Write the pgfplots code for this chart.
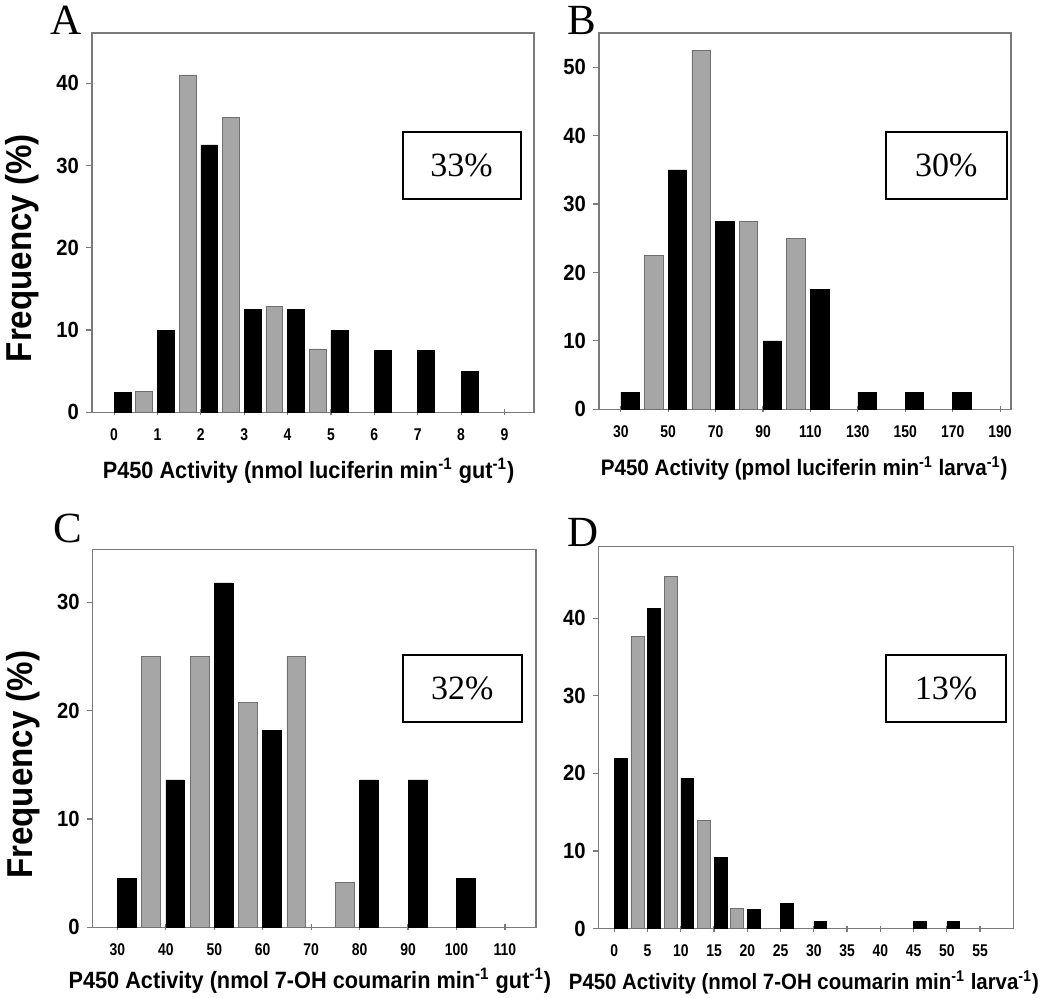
\documentclass[border=0pt]{standalone}
\usepackage{fontspec}
\setmainfont{Liberation Sans}
\newfontfamily\serifA{Liberation Serif}
\newfontfamily\narrowf{Liberation Sans}[FakeStretch=0.82]
\newfontfamily\semif{Liberation Sans}[FakeStretch=0.92]
\usepackage{pgfplots}
\pgfplotsset{compat=1.18}
\definecolor{frameGray}{HTML}{7A7A7A}
\definecolor{barGray}{HTML}{A6A6A6}
\definecolor{edgeGray}{HTML}{6F6F6F}
\pgfplotsset{
  panel/.style={
    scale only axis,
    anchor=south west,
    axis line style={draw=frameGray, line width=0.75pt},
    tick pos=left,
    xtick align=center,
    ytick align=outside,
    major tick length=3pt,
    tick style={draw=frameGray, line width=0.6pt},
    ymin=0,
    /pgf/number format/assume math mode=true,
    xticklabel style={font=\narrowf\bfseries\fontsize{8.5}{9}\selectfont, yshift=-3pt},
    yticklabel style={font=\semif\bfseries\fontsize{11}{11}\selectfont},
    xlabel style={font=\semif\bfseries\fontsize{11.8}{12}\selectfont},
    ylabel style={font=\semif\bfseries\fontsize{18}{18}\selectfont},
  },
  blackbar/.style={ybar, fill=black, draw=black, line width=0.3pt},
  graybar/.style={ybar, fill=barGray, draw=edgeGray, line width=0.4pt},
}
\tikzset{
  pctbox/.style={draw=black, line width=1pt, fill=white, minimum height=33.5pt,
    font=\serifA\fontsize{17}{17}\selectfont},
}
\begin{document}
\begin{tikzpicture}
\path[use as bounding box] (0,0) rectangle (525pt,498.5pt);

% ---------------- Panel A ----------------
\begin{axis}[panel, at={(46pt,292.35pt)}, width=221pt, height=189.65pt,
  xmin=-0.51, xmax=9.68, ymax=46.1,
  xtick={0,1,2,3,4,5,6,7,8,9}, ytick={0,10,20,30,40},
  xlabel={P450 Activity (nmol luciferin min\textsuperscript{-1} gut\textsuperscript{-1})},
  xlabel style={at={(axis description cs:0.49,0)}, anchor=base, yshift=-33pt},
  ylabel={Frequency (\%)},
  ylabel style={at={(axis description cs:-0.1364,0.433)}, anchor=base},
]
\addplot[blackbar, bar width=0.39, bar shift=0.195] coordinates {
  (0,2.4) (1,10) (2,32.5) (3,12.5) (4,12.5) (5,10) (6,7.5) (7,7.5) (8,5)};
\addplot[graybar, bar width=0.39, bar shift=0.195] coordinates {
  (0.5,2.5) (1.5,41) (2.5,35.8) (3.5,12.9) (4.5,7.7)};
\node[pctbox, minimum width=59pt] at (rel axis cs:0.836,0.65) {33\%};
\end{axis}

% ---------------- Panel B ----------------
\begin{axis}[panel, at={(299.5pt,293.85pt)}, width=206pt, height=188.15pt,
  xmin=20.8, xmax=194.6, ymax=55,
  xtick={30,50,70,90,110,130,150,170,190}, ytick={0,10,20,30,40,50},
  xlabel={P450 Activity (pmol luciferin min\textsuperscript{-1} larva\textsuperscript{-1})},
  xlabel style={at={(axis description cs:0.498,0)}, anchor=base, yshift=-33.3pt,
    font=\semif\bfseries\fontsize{11.2}{12}\selectfont},
]
\addplot[blackbar, bar width=7.8, bar shift=3.9] coordinates {
  (30,2.5) (50,35) (70,27.5) (90,10) (110,17.5) (130,2.5) (150,2.5) (170,2.5)};
\addplot[graybar, bar width=7.8, bar shift=3.9] coordinates {
  (40,22.5) (60,52.5) (80,27.5) (100,25)};
\node[pctbox, minimum width=60.3pt] at (rel axis cs:0.843,0.647) {30\%};
\end{axis}

% ---------------- Panel C ----------------
\begin{axis}[panel, at={(46.35pt,34.85pt)}, width=221.65pt, height=189pt,
  xmin=24.9, xmax=116.4, ymax=34.9,
  xtick={30,40,50,60,70,80,90,100,110}, ytick={0,10,20,30},
  xlabel={P450 Activity (nmol 7-OH coumarin min\textsuperscript{-1} gut\textsuperscript{-1})},
  xlabel style={at={(axis description cs:0.49,0)}, anchor=base, yshift=-30.5pt},
  ylabel={Frequency (\%)},
  ylabel style={at={(axis description cs:-0.136,0.43)}, anchor=base},
]
\addplot[blackbar, bar width=3.9, bar shift=1.95] coordinates {
  (30,4.5) (40,13.6) (50,31.8) (60,18.2) (80,13.6) (90,13.6) (100,4.5)};
\addplot[graybar, bar width=3.9, bar shift=1.95] coordinates {
  (35,25) (45,25) (55,20.8) (65,25) (75,4.1)};
\node[pctbox, minimum width=59.5pt] at (rel axis cs:0.834,0.631) {32\%};
\end{axis}

% ---------------- Panel D ----------------
\begin{axis}[panel, at={(299.35pt,34.15pt)}, width=207.3pt, height=191pt,
  xmin=-2.35, xmax=60, ymax=49.2,
  xtick={0,5,10,15,20,25,30,35,40,45,50,55}, ytick={0,10,20,30,40},
  xlabel={P450 Activity (nmol 7-OH coumarin min\textsuperscript{-1} larva\textsuperscript{-1})},
  xlabel style={at={(axis description cs:0.495,0)}, anchor=base, yshift=-30.6pt,
    font=\semif\bfseries\fontsize{11.1}{12}\selectfont},
]
\addplot[blackbar, bar width=1.95, bar shift=0.975] coordinates {
  (0,21.9) (5,41.3) (10,19.4) (15,9.2) (20,2.5) (25,3.3) (30,0.9) (45,0.9) (50,0.9)};
\addplot[graybar, bar width=1.95, bar shift=0.975] coordinates {
  (2.5,37.6) (7.5,45.4) (12.5,13.9) (17.5,2.6)};
\node[pctbox, minimum width=60pt] at (rel axis cs:0.838,0.628) {13\%};
\end{axis}

% panel letters
\node[anchor=base west, inner sep=0, font=\serifA\fontsize{21.5}{21.5}\selectfont] at (25pt,481pt) {A};
\node[anchor=base west, inner sep=0, font=\serifA\fontsize{21.5}{21.5}\selectfont] at (283.3pt,481.3pt) {B};
\node[anchor=base west, inner sep=0, font=\serifA\fontsize{21.5}{21.5}\selectfont] at (26.5pt,227pt) {C};
\node[anchor=base west, inner sep=0, font=\serifA\fontsize{21.5}{21.5}\selectfont] at (283.3pt,225.2pt) {D};
\end{tikzpicture}
\end{document}
